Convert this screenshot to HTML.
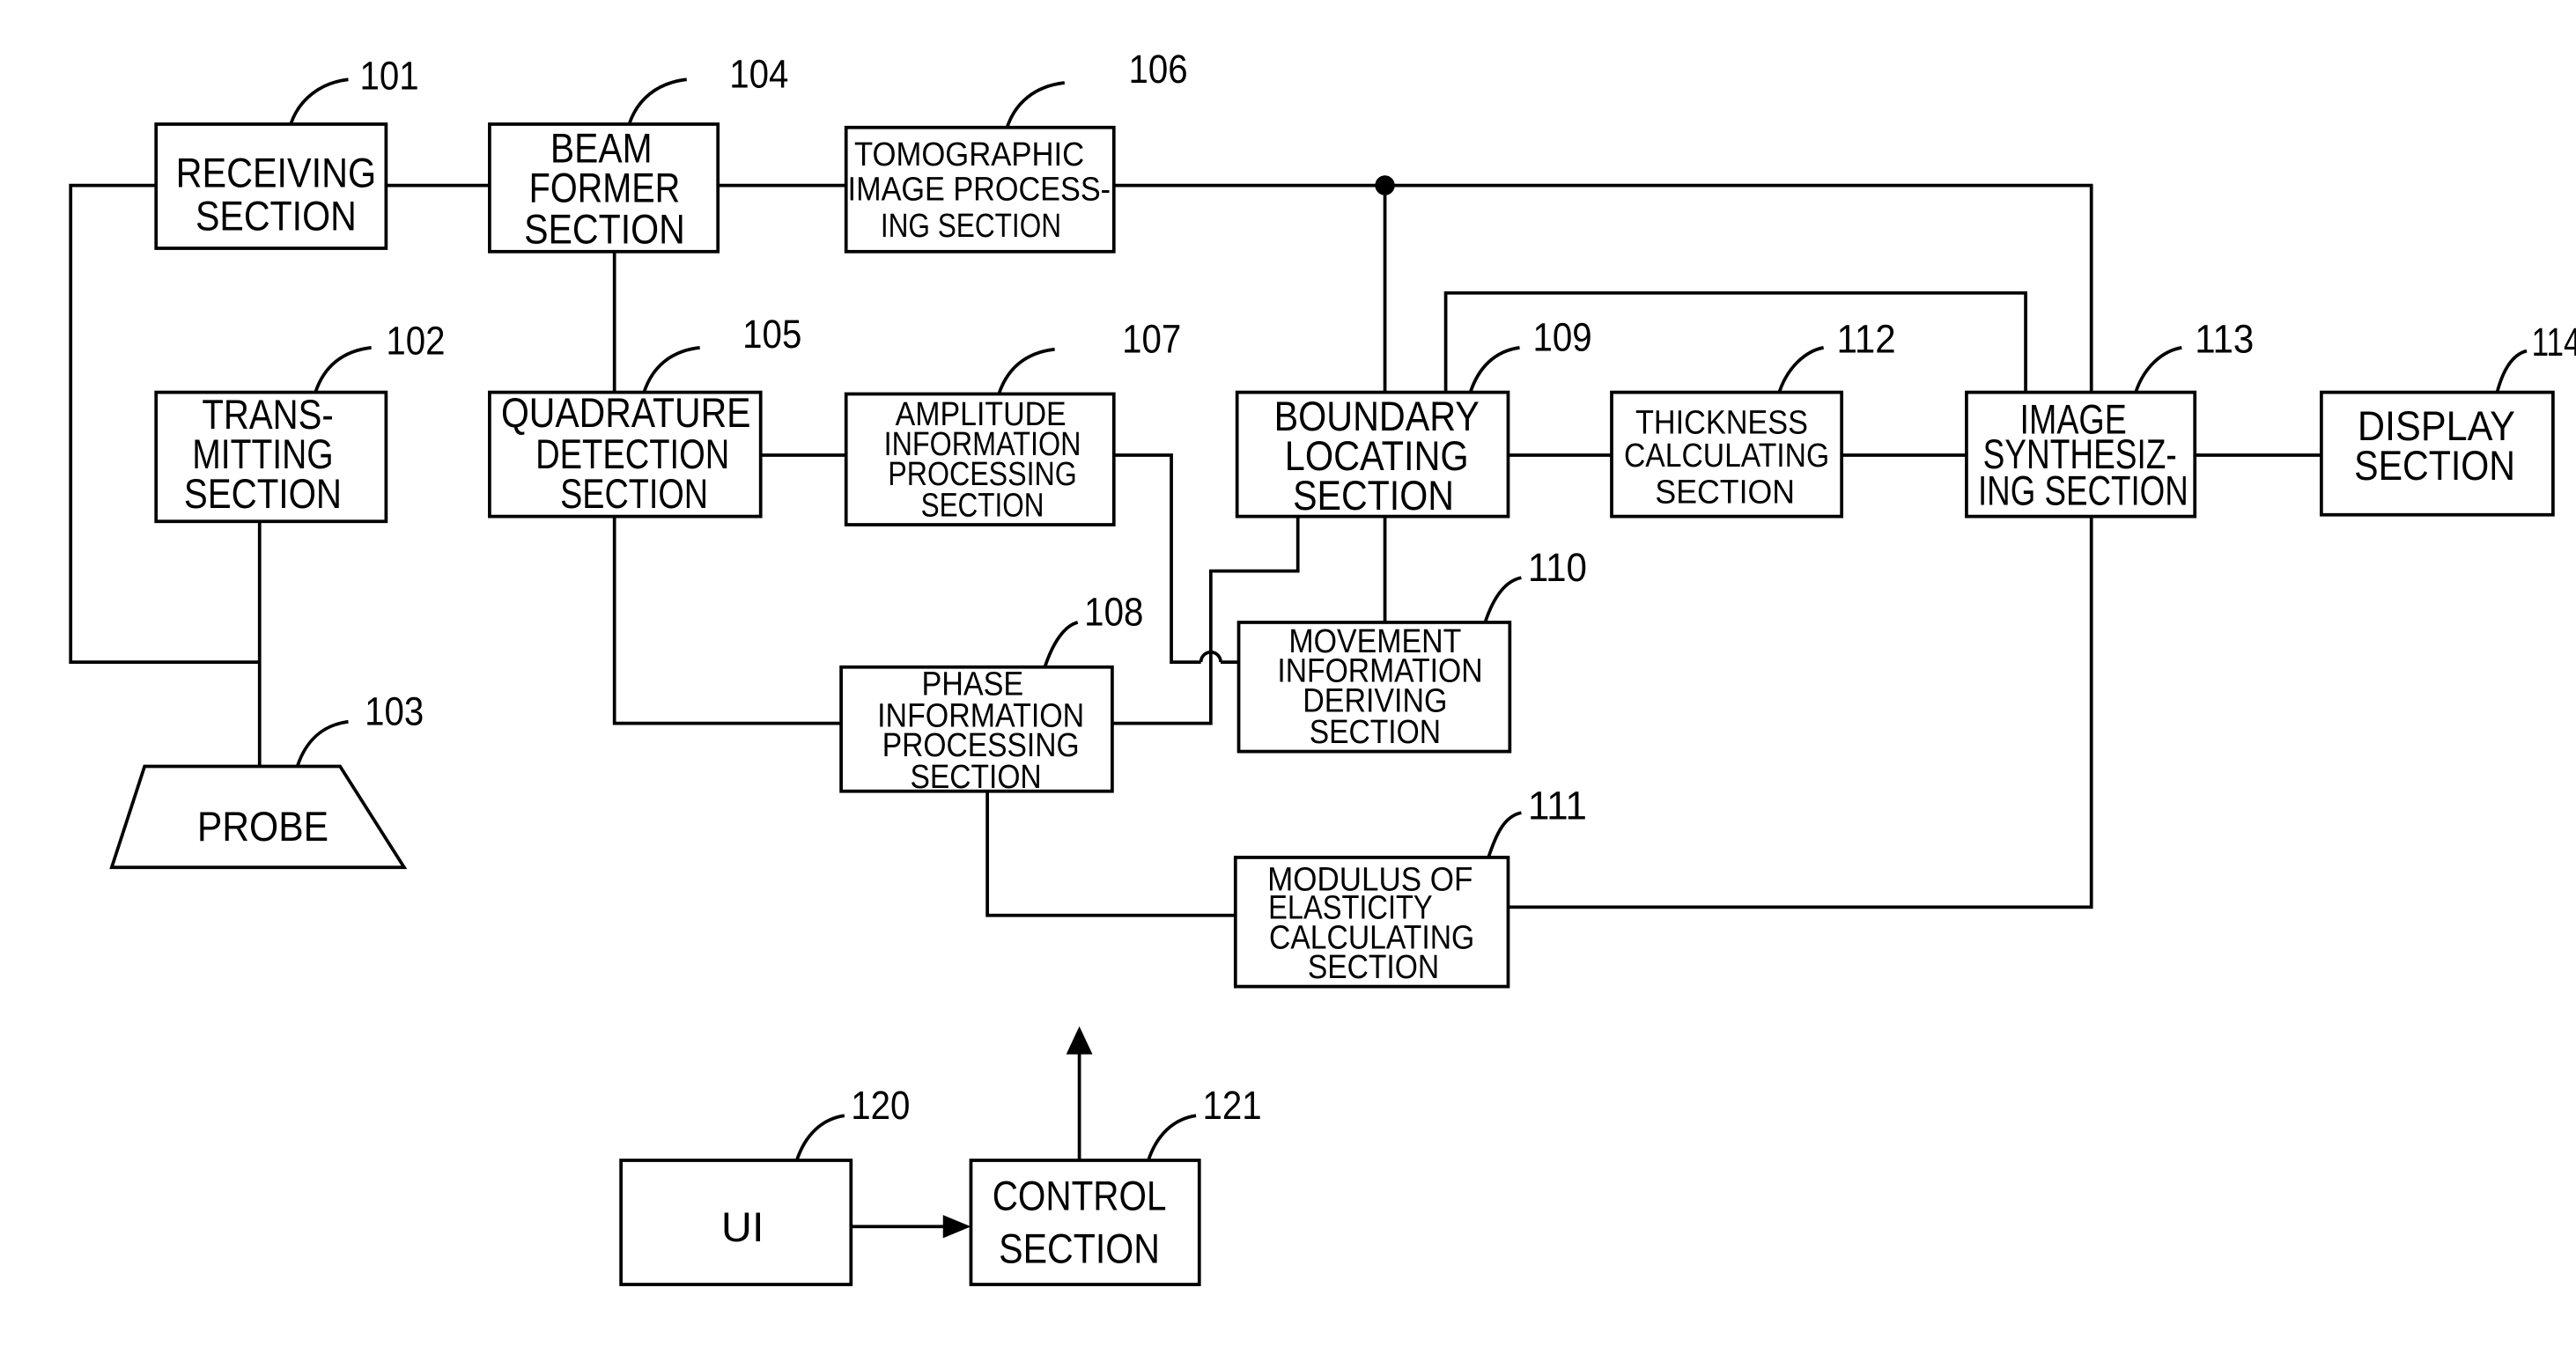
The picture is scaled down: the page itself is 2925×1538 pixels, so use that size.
<!DOCTYPE html>
<html><head><meta charset="utf-8"><style>
html,body{margin:0;padding:0;background:#fff;}
svg{display:block;}
text{font-family:"Liberation Sans",sans-serif;fill:#000;}
</style></head><body>
<svg width="2925" height="1538" viewBox="0 0 1568 818" preserveAspectRatio="none" xmlns="http://www.w3.org/2000/svg">
<g fill="none" stroke="#000" stroke-width="2">
<rect x="95" y="75" width="140" height="75"/>
<rect x="298" y="75" width="139" height="77"/>
<rect x="515" y="77" width="163" height="75"/>
<rect x="95" y="237" width="140" height="78"/>
<rect x="298" y="237" width="165" height="75"/>
<rect x="515" y="238" width="163" height="79"/>
<rect x="753" y="237" width="165" height="75"/>
<rect x="981" y="237" width="140" height="75"/>
<rect x="1197" y="237" width="139" height="75"/>
<rect x="1413" y="237" width="141" height="74"/>
<rect x="754" y="376" width="165" height="78"/>
<rect x="512" y="403" width="165" height="75"/>
<rect x="752" y="518" width="166" height="78"/>
<rect x="378" y="701" width="140" height="75"/>
<rect x="591" y="701" width="139" height="75"/>
<polygon points="88,463 207,463 246,524 68,524"/>
<polyline points="95,112 43,112 43,400 158,400"/>
<line x1="158" y1="315" x2="158" y2="463"/>
<line x1="235" y1="112" x2="298" y2="112"/>
<line x1="437" y1="112" x2="515" y2="112"/>
<polyline points="678,112 1273,112 1273,237"/>
<line x1="843" y1="112" x2="843" y2="237"/>
<line x1="843" y1="312" x2="843" y2="376"/>
<line x1="374" y1="152" x2="374" y2="237"/>
<line x1="463" y1="275" x2="515" y2="275"/>
<polyline points="374,312 374,437 512,437"/>
<polyline points="678,275 713,275 713,400 731,400"/>
<path d="M731,400 A6,6 0 0 1 743,400"/>
<line x1="743" y1="400" x2="754" y2="400"/>
<polyline points="677,437 737,437 737,345 790,345 790,312"/>
<polyline points="880,237 880,177 1233,177 1233,237"/>
<line x1="918" y1="275" x2="981" y2="275"/>
<line x1="1121" y1="275" x2="1197" y2="275"/>
<line x1="1336" y1="275" x2="1413" y2="275"/>
<polyline points="1273,312 1273,548 918,548"/>
<polyline points="601,478 601,553 752,553"/>
<line x1="518" y1="741" x2="578" y2="741"/>
<line x1="657" y1="701" x2="657" y2="634"/>
<path d="M177,75 C182,60 195,50 212,48"/>
<path d="M383,75 C388,60 400,50 418,48"/>
<path d="M613,77 C618,62 630,52 648,50"/>
<path d="M192,237 C197,222 208,212 226,210"/>
<path d="M392,237 C397,222 408,212 426,210"/>
<path d="M608,238 C613,223 624,213 642,211"/>
<path d="M895,237 C900,222 910,212 925,210"/>
<path d="M1083,237 C1088,222 1099,212 1110,210"/>
<path d="M1300,237 C1305,222 1316,212 1328,210"/>
<path d="M1520,237 C1524,222 1530,214 1538,212"/>
<path d="M904,376 C909,361 916,351 926,349"/>
<path d="M636,403 C641,388 648,378 656,376"/>
<path d="M906,518 C911,503 916,493 926,491"/>
<path d="M181,463 C186,448 196,438 212,436"/>
<path d="M485,701 C490,686 500,676 514,674"/>
<path d="M699,701 C704,686 714,676 728,674"/>
</g>
<circle cx="843" cy="112" r="6" fill="#000"/>
<polygon points="591,741 574,734 574,748" fill="#000"/>
<polygon points="657,620 649,637 665,637" fill="#000"/>
<g text-anchor="middle" font-size="25">
<text x="168" y="113" textLength="122" lengthAdjust="spacingAndGlyphs">RECEIVING</text>
<text x="168" y="139" textLength="98" lengthAdjust="spacingAndGlyphs">SECTION</text>
<text x="366" y="98" textLength="62" lengthAdjust="spacingAndGlyphs">BEAM</text>
<text x="368" y="122" textLength="92" lengthAdjust="spacingAndGlyphs">FORMER</text>
<text x="368" y="147" textLength="98" lengthAdjust="spacingAndGlyphs">SECTION</text>
<text x="163" y="259" textLength="80" lengthAdjust="spacingAndGlyphs">TRANS-</text>
<text x="160" y="283" textLength="86" lengthAdjust="spacingAndGlyphs">MITTING</text>
<text x="160" y="307" textLength="96" lengthAdjust="spacingAndGlyphs">SECTION</text>
<text x="381" y="258" textLength="152" lengthAdjust="spacingAndGlyphs">QUADRATURE</text>
<text x="385" y="283" textLength="118" lengthAdjust="spacingAndGlyphs">DETECTION</text>
<text x="386" y="307" textLength="90" lengthAdjust="spacingAndGlyphs">SECTION</text>
<text x="838" y="260" textLength="125" lengthAdjust="spacingAndGlyphs">BOUNDARY</text>
<text x="838" y="284" textLength="112" lengthAdjust="spacingAndGlyphs">LOCATING</text>
<text x="836" y="308" textLength="98" lengthAdjust="spacingAndGlyphs">SECTION</text>
<text x="1483" y="266" textLength="96" lengthAdjust="spacingAndGlyphs">DISPLAY</text>
<text x="1482" y="290" textLength="98" lengthAdjust="spacingAndGlyphs">SECTION</text>
<text x="1262" y="262" textLength="65" lengthAdjust="spacingAndGlyphs">IMAGE</text>
<text x="1266" y="283" textLength="118" lengthAdjust="spacingAndGlyphs">SYNTHESIZ-</text>
<text x="1268" y="305" textLength="128" lengthAdjust="spacingAndGlyphs">ING SECTION</text>
<text x="160" y="508" textLength="80" lengthAdjust="spacingAndGlyphs">PROBE</text>
<text x="452" y="750" textLength="26" lengthAdjust="spacingAndGlyphs">UI</text>
<text x="657" y="731" textLength="106" lengthAdjust="spacingAndGlyphs">CONTROL</text>
<text x="657" y="763" textLength="98" lengthAdjust="spacingAndGlyphs">SECTION</text>
</g>
<g text-anchor="middle" font-size="20">
<text x="590" y="100" textLength="140" lengthAdjust="spacingAndGlyphs">TOMOGRAPHIC</text>
<text x="596" y="121" textLength="160" lengthAdjust="spacingAndGlyphs">IMAGE PROCESS-</text>
<text x="591" y="143" textLength="110" lengthAdjust="spacingAndGlyphs">ING SECTION</text>
<text x="597" y="257" textLength="104" lengthAdjust="spacingAndGlyphs">AMPLITUDE</text>
<text x="598" y="275" textLength="120" lengthAdjust="spacingAndGlyphs">INFORMATION</text>
<text x="598" y="293" textLength="115" lengthAdjust="spacingAndGlyphs">PROCESSING</text>
<text x="598" y="312" textLength="75" lengthAdjust="spacingAndGlyphs">SECTION</text>
<text x="1048" y="262" textLength="105" lengthAdjust="spacingAndGlyphs">THICKNESS</text>
<text x="1051" y="282" textLength="125" lengthAdjust="spacingAndGlyphs">CALCULATING</text>
<text x="1050" y="304" textLength="85" lengthAdjust="spacingAndGlyphs">SECTION</text>
<text x="837" y="394" textLength="105" lengthAdjust="spacingAndGlyphs">MOVEMENT</text>
<text x="840" y="412" textLength="125" lengthAdjust="spacingAndGlyphs">INFORMATION</text>
<text x="837" y="430" textLength="88" lengthAdjust="spacingAndGlyphs">DERIVING</text>
<text x="837" y="449" textLength="80" lengthAdjust="spacingAndGlyphs">SECTION</text>
<text x="592" y="420" textLength="62" lengthAdjust="spacingAndGlyphs">PHASE</text>
<text x="597" y="439" textLength="126" lengthAdjust="spacingAndGlyphs">INFORMATION</text>
<text x="597" y="457" textLength="120" lengthAdjust="spacingAndGlyphs">PROCESSING</text>
<text x="594" y="476" textLength="80" lengthAdjust="spacingAndGlyphs">SECTION</text>
<text x="834" y="538" textLength="125" lengthAdjust="spacingAndGlyphs">MODULUS OF</text>
<text x="822" y="555" textLength="100" lengthAdjust="spacingAndGlyphs">ELASTICITY</text>
<text x="835" y="573" textLength="125" lengthAdjust="spacingAndGlyphs">CALCULATING</text>
<text x="836" y="591" textLength="80" lengthAdjust="spacingAndGlyphs">SECTION</text>
</g>
<g font-size="24">
<text x="219" y="54" textLength="36" lengthAdjust="spacingAndGlyphs">101</text>
<text x="444" y="53" textLength="36" lengthAdjust="spacingAndGlyphs">104</text>
<text x="687" y="50" textLength="36" lengthAdjust="spacingAndGlyphs">106</text>
<text x="235" y="214" textLength="36" lengthAdjust="spacingAndGlyphs">102</text>
<text x="452" y="210" textLength="36" lengthAdjust="spacingAndGlyphs">105</text>
<text x="683" y="213" textLength="36" lengthAdjust="spacingAndGlyphs">107</text>
<text x="933" y="212" textLength="36" lengthAdjust="spacingAndGlyphs">109</text>
<text x="1118" y="213" textLength="36" lengthAdjust="spacingAndGlyphs">112</text>
<text x="1336" y="213" textLength="36" lengthAdjust="spacingAndGlyphs">113</text>
<text x="1541" y="215" textLength="30" lengthAdjust="spacingAndGlyphs">114</text>
<text x="930" y="351" textLength="36" lengthAdjust="spacingAndGlyphs">110</text>
<text x="660" y="378" textLength="36" lengthAdjust="spacingAndGlyphs">108</text>
<text x="930" y="495" textLength="36" lengthAdjust="spacingAndGlyphs">111</text>
<text x="222" y="438" textLength="36" lengthAdjust="spacingAndGlyphs">103</text>
<text x="518" y="676" textLength="36" lengthAdjust="spacingAndGlyphs">120</text>
<text x="732" y="676" textLength="36" lengthAdjust="spacingAndGlyphs">121</text>
</g>
</svg>
</body></html>
